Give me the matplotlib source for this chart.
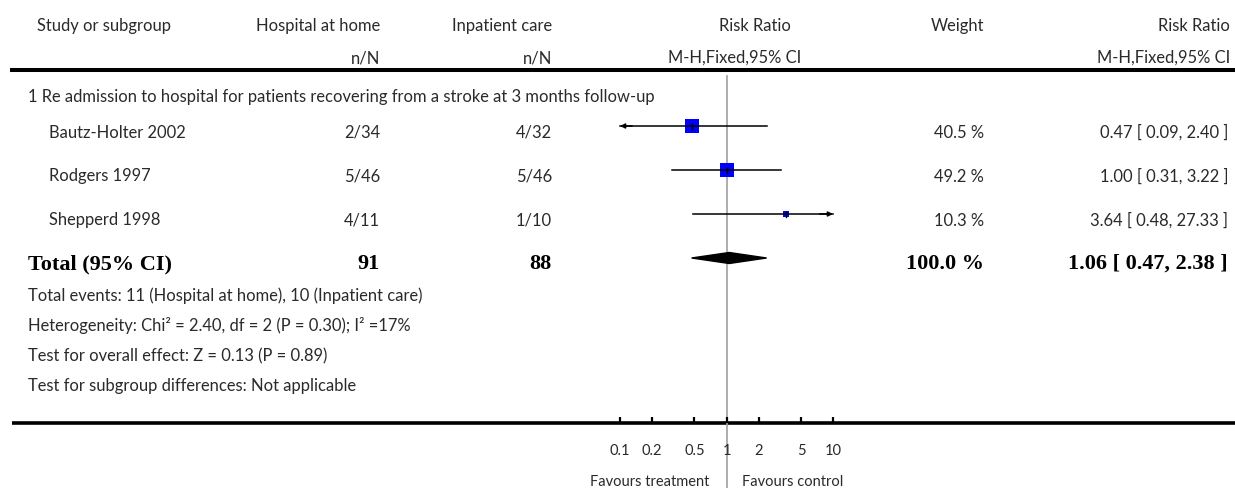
import numpy as np
import matplotlib
matplotlib.use("Agg")
import matplotlib.pyplot as plt
from matplotlib.patches import Polygon

# data
studies = ["Bautz-Holter 2002", "Rodgers 1997", "Shepperd 1998"]
home_events = [2, 5, 4]
home_total = [34, 46, 11]
inp_events = [4, 5, 1]
inp_total = [32, 46, 10]
rr = [0.47, 1.00, 3.64]
rr_lo = [0.09, 0.31, 0.48]
rr_hi = [2.40, 3.22, 27.33]
weights = [40.5, 49.2, 10.3]

total_home = 91
total_inp = 88
total_rr = 1.06
total_lo = 0.47
total_hi = 2.38
total_weight = 100.0

subgroup = "1 Re admission to hospital for patients recovering from a stroke at 3 months follow-up"
footer = [
    "Total events: 11 (Hospital at home), 10 (Inpatient care)",
    "Heterogeneity: Chi\u00b2 = 2.40, df = 2 (P = 0.30); I\u00b2 =17%",
    "Test for overall effect: Z = 0.13 (P = 0.89)",
    "Test for subgroup differences: Not applicable",
]
tick_vals = [0.1, 0.2, 0.5, 1, 2, 5, 10]
tick_labels = ["0.1", "0.2", "0.5", "1", "2", "5", "10"]

W, H = 1235, 488
FONT = "Lato"
TXT = "#2a2a2a"
fs = 11.9

fig = plt.figure(figsize=(W / 100, H / 100), dpi=100)
ax = fig.add_axes([0, 0, 1, 1])
ax.set_xlim(0, W)
ax.set_ylim(H, 0)
ax.axis("off")

# forest axes: log scale, 0.1 -> px 620, 10 -> px 833
axf = fig.add_axes([620 / W, 0, 213 / W, 1])
axf.set_xscale("log")
axf.set_xlim(0.1, 10)
axf.set_ylim(H, 0)
axf.axis("off")
axf.patch.set_alpha(0)


def t(x, y, s, ha="left", bold=False, size=fs):
    if bold:
        ax.text(x, y, s, ha=ha, va="baseline", fontsize=16, fontweight="bold",
                family="Liberation Serif", color="black")
    else:
        ax.text(x, y, s, ha=ha, va="baseline", fontsize=size, family=FONT, color=TXT)


# header
t(37, 31, "Study or subgroup")
t(380, 31, "Hospital at home", ha="right")
t(380, 63, "n/N", ha="right")
t(552, 31, "Inpatient care", ha="right")
t(552, 63, "n/N", ha="right")
t(755, 31, "Risk Ratio", ha="center")
t(735, 63, "M-H,Fixed,95% CI", ha="center")
t(984, 31, "Weight", ha="right")
t(1230, 31, "Risk Ratio", ha="right")
t(1230, 63, "M-H,Fixed,95% CI", ha="right")

ax.plot([10, W], [70, 70], color="black", lw=2.9, solid_capstyle="butt")
ax.plot([12, W], [423, 423], color="black", lw=2.6, solid_capstyle="butt")

t(28, 102, subgroup)

row_y = 126 + 44 * np.arange(len(studies))
for i, name in enumerate(studies):
    y = row_y[i]
    t(49, y + 11.5, name)
    t(380, y + 11.5, f"{home_events[i]}/{home_total[i]}", ha="right")
    t(552, y + 11.5, f"{inp_events[i]}/{inp_total[i]}", ha="right")
    t(984, y + 11.5, f"{weights[i]:.1f} %", ha="right")
    t(1228, y + 11.5, f"{rr[i]:.2f} [ {rr_lo[i]:.2f}, {rr_hi[i]:.2f} ]", ha="right")

    # box sized by weight
    side = 2.1 * np.sqrt(weights[i])
    axf.scatter([rr[i]], [y], marker="s", s=(side * 0.72) ** 2, color="#0000ff",
                linewidths=0, zorder=3, clip_on=False)
    lo = max(rr_lo[i], 0.1)
    hi = min(rr_hi[i], 10)
    axf.plot([lo, hi], [y, y], color="black", lw=1.1, zorder=4, clip_on=False)
    axf.plot([rr[i], rr[i]], [y - 2.5, y + 2.5], color="black", lw=1.0, zorder=5,
             clip_on=False)
    if rr_lo[i] < 0.1:
        axf.annotate("", xy=(0.1, y), xytext=(0.13, y),
                     arrowprops=dict(arrowstyle="-|>", lw=1.1, color="black",
                                     mutation_scale=7, shrinkA=0, shrinkB=0),
                     annotation_clip=False, zorder=4)
    if rr_hi[i] > 10:
        axf.annotate("", xy=(10, y), xytext=(7.5, y),
                     arrowprops=dict(arrowstyle="-|>", lw=1.1, color="black",
                                     mutation_scale=7, shrinkA=0, shrinkB=0),
                     annotation_clip=False, zorder=4)

# total row
ty = 126 + 44 * len(studies)
t(28, ty + 11, "Total (95% CI)", bold=True)
t(380, ty + 11, str(total_home), ha="right", bold=True)
t(552, ty + 11, str(total_inp), ha="right", bold=True)
t(984, ty + 11, f"{total_weight:.1f} %", ha="right", bold=True)
t(1228, ty + 11, f"{total_rr:.2f} [ {total_lo:.2f}, {total_hi:.2f} ]", ha="right", bold=True)
diamond = Polygon([(total_lo, ty), (total_rr, ty - 5.5), (total_hi, ty), (total_rr, ty + 5.5)],
                  closed=True, color="black", zorder=4)
axf.add_patch(diamond)

for k, line in enumerate(footer):
    t(28, 301 + 30 * k, line)

# line of no effect
axf.plot([1, 1], [76, H], color="#a0a0a0", lw=1.2, zorder=2, clip_on=False)

# axis ticks and labels
axf.vlines(tick_vals, 417, 423, color="black", lw=1.6, clip_on=False)
for v, lab in zip(tick_vals, tick_labels):
    axf.text(v, 455, lab, ha="center", va="baseline", fontsize=10.5, family=FONT, color=TXT)
axf.text(0.69, 486, "Favours treatment", ha="right", va="baseline", fontsize=10.5,
         family=FONT, color=TXT)
axf.text(1.4, 486, "Favours control", ha="left", va="baseline", fontsize=10.5,
         family=FONT, color=TXT)

fig.savefig("out.png", dpi=100)
